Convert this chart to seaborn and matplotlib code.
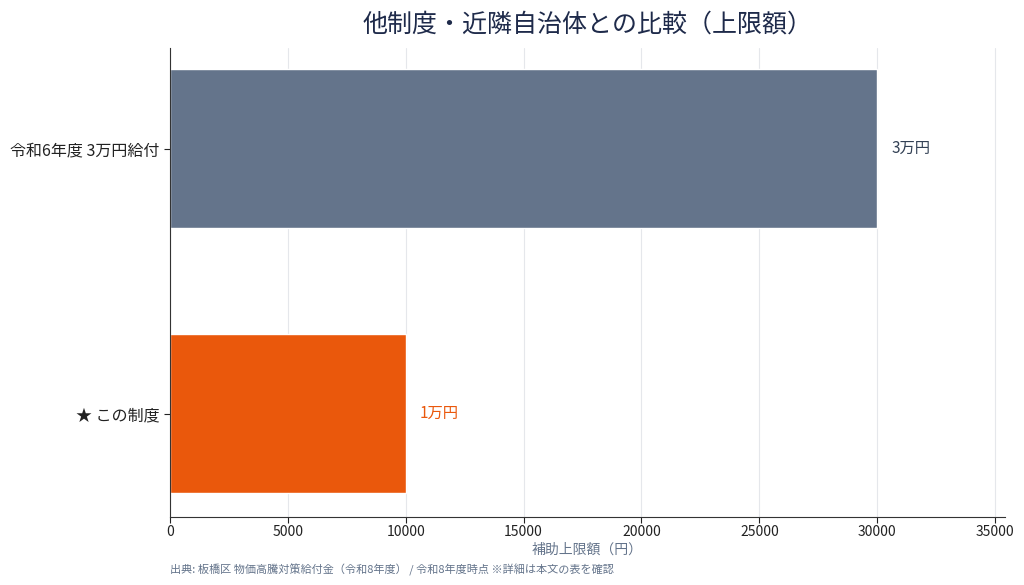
import matplotlib
matplotlib.use("Agg")
import matplotlib.pyplot as plt
import seaborn as sns
import pandas as pd

categories = ["令和6年度 3万円給付", "★ この制度"]
amounts = [30000, 10000]
value_labels = ["3万円", "1万円"]
bar_colors = ["#64748b", "#ea580c"]
label_colors = ["#334155", "#ea580c"]

df = pd.DataFrame({"category": categories, "amount": amounts})

sns.set_style("white")
plt.rcParams['font.family'] = ['Noto Sans CJK JP', 'DejaVu Sans']

fig, ax = plt.subplots(figsize=(10.24, 5.85), dpi=100)
fig.subplots_adjust(left=0.166, right=0.981, top=0.918, bottom=0.116)

sns.barplot(data=df, x="amount", y="category", hue="category", palette=bar_colors,
            orient="h", width=0.6, saturation=1, legend=False, ax=ax, zorder=2)

for i, (v, lab, c) in enumerate(zip(amounts, value_labels, label_colors)):
    ax.text(v + 600, i, lab, va="center", ha="left", fontsize=11, color=c)

ax.set_xlim(0, 35400)
ax.set_ylim(1.39, -0.38)
ax.xaxis.grid(True, color="#e5e7eb", linewidth=0.8, zorder=0)
ax.set_axisbelow(True)
sns.despine(ax=ax)
ax.spines["left"].set_color("#333333")
ax.spines["bottom"].set_color("#333333")
ax.tick_params(axis="both", colors="#222222", length=4, left=True, bottom=True)
ax.tick_params(axis="x", labelsize=10, pad=2)
ax.tick_params(axis="y", labelsize=11.5)
ax.set_ylabel("")
ax.set_xlabel("補助上限額（円）", fontsize=10, color="#64748b", labelpad=2)
ax.set_title("他制度・近隣自治体との比較（上限額）", fontsize=18, color="#1e2a4a", pad=12)

fig.text(0.166, 0.015, "出典: 板橋区 物価高騰対策給付金（令和8年度） / 令和8年度時点 ※詳細は本文の表を確認",
         fontsize=8, color="#64748b", ha="left", va="bottom")

plt.savefig("out.png", dpi=100)
